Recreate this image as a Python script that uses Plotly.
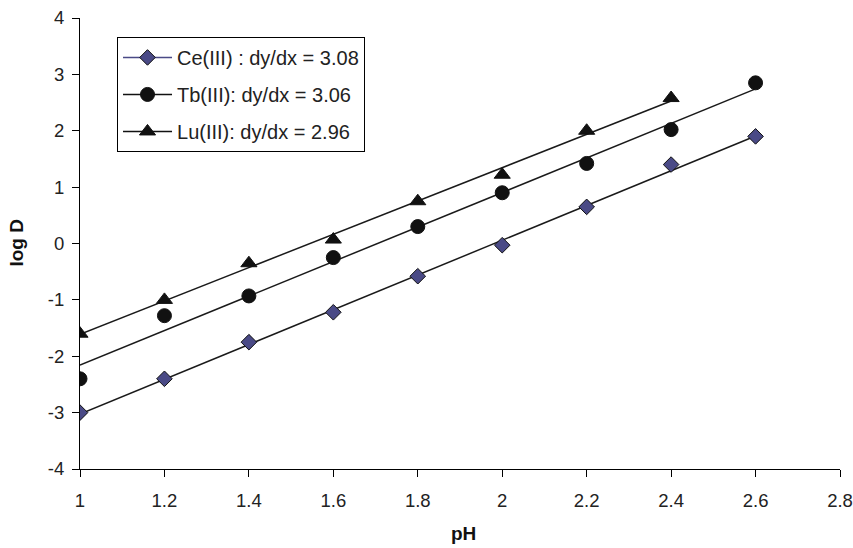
import numpy as np
import plotly.graph_objects as go

ph = [1.0, 1.2, 1.4, 1.6, 1.8, 2.0, 2.2, 2.4, 2.6]
ce = [-3.0, -2.4, -1.75, -1.22, -0.58, -0.03, 0.65, 1.40, 1.90]
tb = [-2.4, -1.28, -0.93, -0.25, 0.30, 0.90, 1.42, 2.02, 2.85]
ph_lu = [1.0, 1.2, 1.4, 1.6, 1.8, 2.0, 2.2, 2.4]
lu = [-1.6, -1.0, -0.35, 0.07, 0.75, 1.22, 2.0, 2.58]

names = ["Ce(III) : dy/dx = 3.08", "Tb(III): dy/dx = 3.06", "Lu(III): dy/dx = 2.96"]
x_ticks = [1, 1.2, 1.4, 1.6, 1.8, 2, 2.2, 2.4, 2.6, 2.8]
y_ticks = [-4, -3, -2, -1, 0, 1, 2, 3, 4]

REG = "Liberation Sans, Arial"

series = [
    (ph, ce, "diamond", 12, "#4a4a86", "#4a4a86"),
    (ph, tb, "circle", 14, "#111111", "#111111"),
    (ph_lu, lu, "triangle-up", 14, "#111111", "#111111"),
]

fig = go.Figure()
for i, (xs, ys, sym, sz, fill, leg_line) in enumerate(series):
    xs_a = np.array(xs)
    k, b = np.polyfit(xs_a, np.array(ys), 1)
    xl = np.array([xs_a.min(), xs_a.max()])
    fig.add_trace(go.Scatter(x=xl, y=k * xl + b, mode="lines",
                             line=dict(color="#1a1a1a", width=1.5),
                             showlegend=False, hoverinfo="skip"))
    fig.add_trace(go.Scatter(x=xs, y=ys, mode="markers",
                             marker=dict(symbol=sym, size=sz, color=fill,
                                         line=dict(color="#111111", width=1)),
                             showlegend=False))
    fig.add_trace(go.Scatter(x=[None], y=[None], mode="lines+markers", name=names[i],
                             legendgroup=f"g{i}",
                             marker=dict(symbol=sym, size=sz, color=fill,
                                         line=dict(color="#111111", width=1)),
                             line=dict(color=leg_line, width=1.5)))

axis_common = dict(showline=True, linecolor="black", linewidth=1, ticks="outside",
                   ticklen=7, tickcolor="black", showgrid=False, zeroline=False,
                   automargin=False,
                   tickfont=dict(family=REG, size=18.5, color="#222"))

fig.update_layout(
    width=853, height=548,
    margin=dict(l=80, r=13, t=18, b=79),
    paper_bgcolor="white", plot_bgcolor="white",
    font=dict(family=REG, color="#222"),
    xaxis=dict(range=[1, 2.8], tickvals=x_ticks, ticktext=[str(v) for v in x_ticks],
               ticklabelstandoff=8, **axis_common),
    yaxis=dict(range=[-4, 4], tickvals=y_ticks, ticktext=[str(v) for v in y_ticks],
               ticklabelstandoff=4, **axis_common),
    legend=dict(x=0.0487, y=0.958, xanchor="left", yanchor="top",
                bordercolor="black", borderwidth=1, bgcolor="white",
                font=dict(family=REG, size=20, color="#222"), tracegroupgap=8,
                itemwidth=49),
    showlegend=True,
    annotations=[
        dict(text="<b>pH</b>", xref="paper", yref="paper", x=0.505, y=-0.142,
             xanchor="center", yanchor="middle", showarrow=False,
             font=dict(family=REG, size=19, color="#111")),
        dict(text="<b>log D</b>", xref="paper", yref="paper", x=-0.083, y=0.502,
             xanchor="center", yanchor="middle", showarrow=False, textangle=-90,
             font=dict(family=REG, size=19, color="#111")),
    ],
)

fig.write_html("out.html", config={"displayModeBar": False},
               post_script="document.body.style.margin='0';document.body.style.overflow='hidden';")
